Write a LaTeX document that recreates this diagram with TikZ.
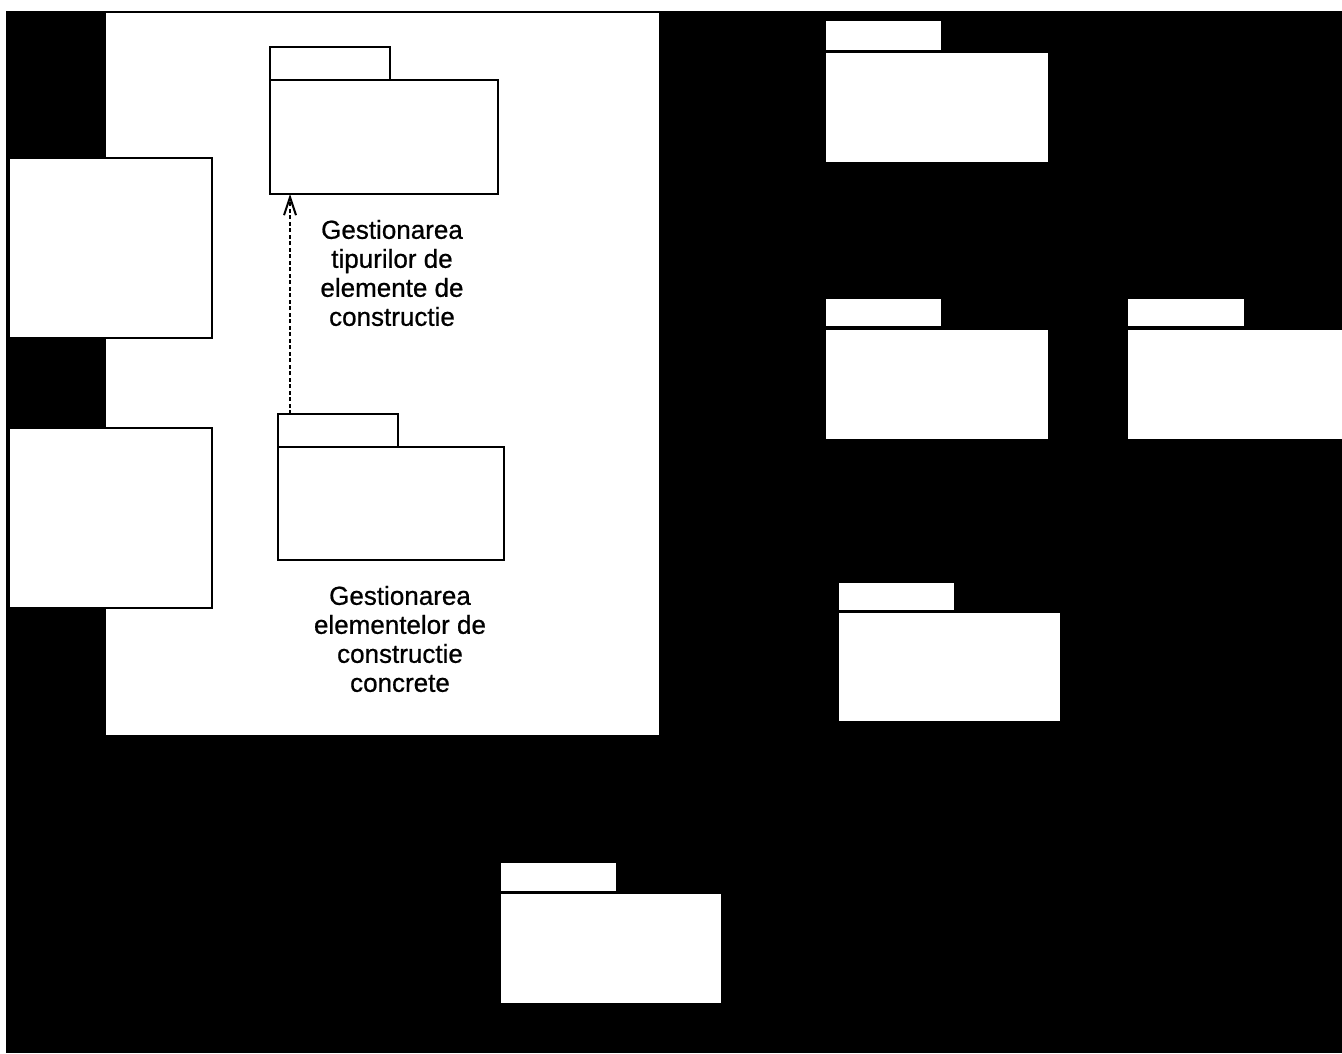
\documentclass[tikz,border=0pt]{standalone}
\usepackage{fontspec}
\setmainfont{Liberation Sans}
\newfontfamily\lblfont[BoldFont={Liberation Sans},BoldFeatures={FakeBold=0.7}]{Liberation Sans}
\usetikzlibrary{arrows.meta}
\begin{document}
\begin{tikzpicture}[x=1pt,y=-1pt,
  box/.style={draw=black,fill=white,line width=2pt,anchor=north west,inner sep=0pt,outer sep=0pt},
  lbl/.style={align=center,font=\lblfont\bfseries\fontsize{26}{29}\selectfont,inner sep=0pt},
  dep/.style={dash pattern=on 4pt off 2.5pt,line width=2pt,-{Straight Barb[length=18pt,width=12pt,line width=2pt]}}]
  % page and dark background
  \useasboundingbox (0,0) rectangle (1342,1053);
  \fill[white] (0,0) rectangle (1342,1053);
  \fill[black] (6,11) rectangle (1342,1053);
  % light panel
  \node[box,draw=none,minimum width=553pt,minimum height=722pt] (panel) at (106,13) {};
  % side boxes
  \node[box,minimum width=203pt,minimum height=180pt] (sideA) at (9,158) {};
  \node[box,minimum width=203pt,minimum height=180pt] (sideB) at (9,428) {};
  % packages inside the panel
  \node[box,minimum width=120pt,minimum height=33pt] (p1tab) at (270,47) {};
  \node[box,minimum width=228pt,minimum height=114pt] (p1body) at (270,80) {};
  \node[box,minimum width=120pt,minimum height=33pt] (p2tab) at (278,414) {};
  \node[box,minimum width=226pt,minimum height=113pt] (p2body) at (278,447) {};
  \node[lbl] (p1lbl) at (392,273) {Gestionarea\\tipurilor de\\elemente de\\constructie};
  \node[lbl] (p2lbl) at (400,639) {Gestionarea\\elementelor de\\constructie\\concrete};
  % dependency arrow
  \coordinate (depstart) at (290,414);
  \draw[dep] (depstart) -- (depstart |- p1body.south);
  % packages on the dark area
  \node[box,minimum width=117pt,minimum height=31pt] (p3tab) at (825,20) {};
  \node[box,minimum width=224pt,minimum height=111pt] (p3body) at (825,52) {};
  \node[box,minimum width=117pt,minimum height=29pt] (p4tab) at (825,298) {};
  \node[box,minimum width=224pt,minimum height=111pt] (p4body) at (825,329) {};
  \node[box,minimum width=118pt,minimum height=29pt] (p5tab) at (1127,298) {};
  \node[box,minimum width=217pt,minimum height=111pt] (p5body) at (1127,329) {};
  \node[box,minimum width=117pt,minimum height=29pt] (p6tab) at (838,582) {};
  \node[box,minimum width=223pt,minimum height=110pt] (p6body) at (838,612) {};
  \node[box,minimum width=117pt,minimum height=30pt] (p7tab) at (500,862) {};
  \node[box,minimum width=222pt,minimum height=111pt] (p7body) at (500,893) {};
\end{tikzpicture}
\end{document}
